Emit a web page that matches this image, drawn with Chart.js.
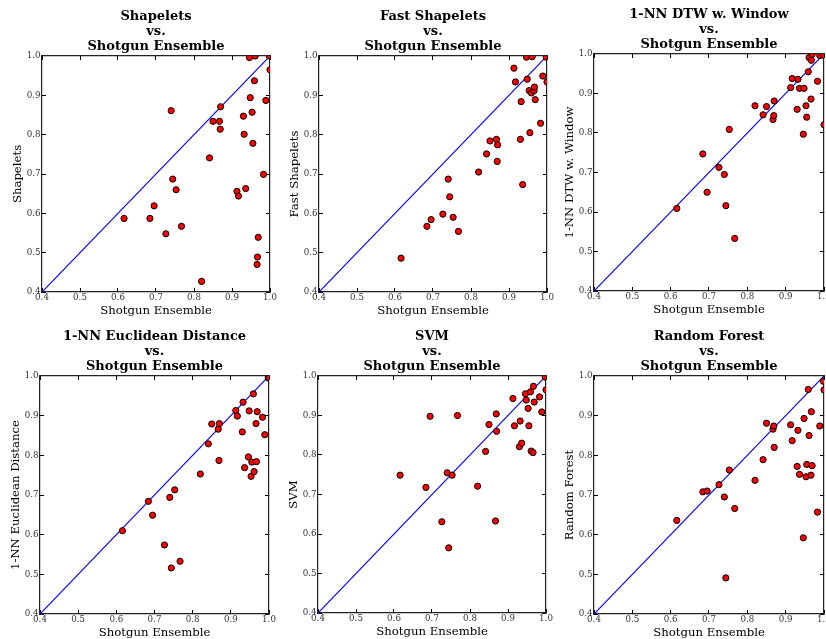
<!DOCTYPE html>
<html><head><meta charset="utf-8">
<script src="https://cdn.jsdelivr.net/npm/chart.js@4.4.0/dist/chart.umd.min.js"></script>
<style>
html,body{margin:0;padding:0;background:#fff;width:826px;height:639px;overflow:hidden;position:relative}
canvas{position:absolute}
</style></head><body>
<script>
// Shared x values: Shotgun Ensemble accuracy per dataset
const SHOTGUN = [0.616,0.684,0.695,0.726,0.740,0.744,0.753,0.767,0.820,0.841,0.850,0.867,0.869,0.870,0.913,0.917,0.930,0.932,0.936,0.946,0.948,0.953,0.955,0.959,0.961,0.966,0.967,0.969,0.983,0.989,0.998,1.000];
const SHAPELETS = [0.587,0.587,0.619,0.548,0.861,0.687,0.660,0.567,0.427,0.741,0.834,0.834,0.814,0.871,0.656,0.644,0.847,0.801,0.663,0.996,0.894,0.857,0.778,0.937,1.000,0.470,0.489,0.539,0.699,0.887,1.000,0.965];
const FAST_SHAPELETS = [0.486,0.567,0.584,0.598,0.687,0.642,0.590,0.554,0.705,0.751,0.784,0.788,0.732,0.774,0.969,0.934,0.788,0.884,0.673,0.997,0.941,0.912,0.805,0.906,0.998,0.912,0.921,0.889,0.829,0.949,0.997,0.934];
const DTW_WINDOW = [0.609,0.747,0.650,0.713,0.695,0.616,0.809,0.533,0.869,0.846,0.867,0.834,0.844,0.881,0.915,0.938,0.860,0.936,0.913,0.797,0.913,0.869,0.840,0.955,0.991,0.886,0.984,0.999,0.931,0.996,0.997,0.821];
const EUCLIDEAN = [0.610,0.684,0.649,0.574,0.694,0.516,0.713,0.533,0.753,0.829,0.879,0.866,0.787,0.880,0.913,0.899,0.859,0.934,0.769,0.796,0.912,0.747,0.783,0.955,0.759,0.880,0.784,0.910,0.896,0.852,0.995,0.995];
const SVM = [0.749,0.718,0.898,0.631,0.755,0.565,0.749,0.900,0.721,0.809,0.877,0.633,0.904,0.860,0.943,0.874,0.821,0.886,0.830,0.955,0.939,0.918,0.874,0.960,0.810,0.806,0.974,0.934,0.947,0.909,0.997,0.965];
const RANDOM_FOREST = [0.636,0.708,0.710,0.726,0.695,0.491,0.763,0.666,0.737,0.789,0.881,0.866,0.874,0.820,0.877,0.837,0.772,0.863,0.752,0.592,0.893,0.746,0.777,0.966,0.850,0.750,0.910,0.774,0.657,0.874,0.987,0.965];

const TICKS = [0.4,0.5,0.6,0.7,0.8,0.9,1.0];
const TICK_LABELS = ['0.4','0.5','0.6','0.7','0.8','0.9','1.0'];
const DIAGONAL = [0.4, 1.0];
const X_LABEL = 'Shotgun Ensemble';
const Y_LABELS = ['Shapelets','Fast Shapelets','1-NN DTW w. Window','1-NN Euclidean Distance','SVM','Random Forest'];
const TITLES = [
  ['Shapelets','vs.','Shotgun Ensemble'],
  ['Fast Shapelets','vs.','Shotgun Ensemble'],
  ['1-NN DTW w. Window','vs.','Shotgun Ensemble'],
  ['1-NN Euclidean Distance','vs.','Shotgun Ensemble'],
  ['SVM','vs.','Shotgun Ensemble'],
  ['Random Forest','vs.','Shotgun Ensemble']
];
const SERIES = [SHAPELETS, FAST_SHAPELETS, DTW_WINDOW, EUCLIDEAN, SVM, RANDOM_FOREST];

// layout: plot area [left, top, width, height] in page pixels
const AREAS = [[42,56,228,236],[319,56,228,236],[594,54,230,237],[40,376,229,238],[318,376,228,237],[594,376,230,238]];
const Y_W = 42, TITLE_H = 56, X_H = 26;
const SERIF = 'DejaVu Serif';

function setTicks(s){ s.ticks = TICKS.map(v => ({value: v})); }
const gridOpts = {drawOnChartArea:false, drawTicks:true, tickLength:-4, tickColor:'#000', tickWidth:1, color:'#000'};
const borderOpts = {display:true, color:'#222', width:1.2};
const tickFont = {family: SERIF, size: 8.7};
const labelFont = {family: SERIF, size: 11.7};

AREAS.forEach((a, i) => {
  const [L, T, W, H] = a;
  const cv = document.createElement('canvas');
  cv.width = W + 2*Y_W; cv.height = TITLE_H + H + X_H;
  cv.style.left = (L - Y_W) + 'px'; cv.style.top = (T - TITLE_H) + 'px';
  cv.style.width = cv.width + 'px'; cv.style.height = cv.height + 'px';
  document.body.appendChild(cv);
  const pts = SHOTGUN.map((x, k) => ({x: x, y: SERIES[i][k]}));
  new Chart(cv, {
    type: 'scatter',
    data: {datasets: [
      {data: pts, backgroundColor:'#ff0000', borderColor:'#000', borderWidth:1, pointRadius:3.1, pointHoverRadius:3.1, clip:0, order:1},
      {data: DIAGONAL.map(v => ({x:v, y:v})), showLine:true, borderColor:'#0000ff', borderWidth:1.2, pointRadius:0, fill:false, clip:0, order:2}
    ]},
    options: {
      responsive:false, animation:false, devicePixelRatio:1,
      layout:{padding:0},
      plugins:{
        legend:{display:false}, tooltip:{enabled:false},
        title:{display:true, text:TITLES[i], color:'#000',
          font:{family:SERIF, size:13, weight:'bold', lineHeight:'14.7px'},
          padding:{top:9.5, bottom:2.4}}
      },
      scales:{
        x:{type:'linear', position:'bottom', min:0.4, max:1.0,
          afterBuildTicks:setTicks, afterFit:s=>{s.height = X_H;},
          ticks:{padding:5, font:tickFont, color:'#333', maxRotation:0, autoSkip:false, callback:(v,k)=>TICK_LABELS[k]},
          grid:gridOpts, border:borderOpts,
          title:{display:true, text:X_LABEL, color:'#000', font:labelFont, padding:{top:0,bottom:0}}},
        y:{type:'linear', position:'left', min:0.4, max:1.0,
          afterBuildTicks:setTicks, afterFit:s=>{s.width = Y_W;},
          ticks:{padding:5.5, font:tickFont, color:'#333', autoSkip:false, callback:(v,k)=>TICK_LABELS[k]},
          grid:gridOpts, border:borderOpts,
          title:{display:true, text:Y_LABELS[i], color:'#000', font:labelFont, padding:{top:10.5,bottom:0}}},
        x2:{type:'linear', axis:'x', position:'top', min:0.4, max:1.0,
          afterBuildTicks:setTicks, afterFit:s=>{s.height = 0;},
          ticks:{display:false}, grid:gridOpts, border:borderOpts},
        y2:{type:'linear', axis:'y', position:'right', min:0.4, max:1.0,
          afterBuildTicks:setTicks, afterFit:s=>{s.width = Y_W;},
          ticks:{display:false}, grid:gridOpts, border:borderOpts}
      }
    }
  });
});
</script>
</body></html>
